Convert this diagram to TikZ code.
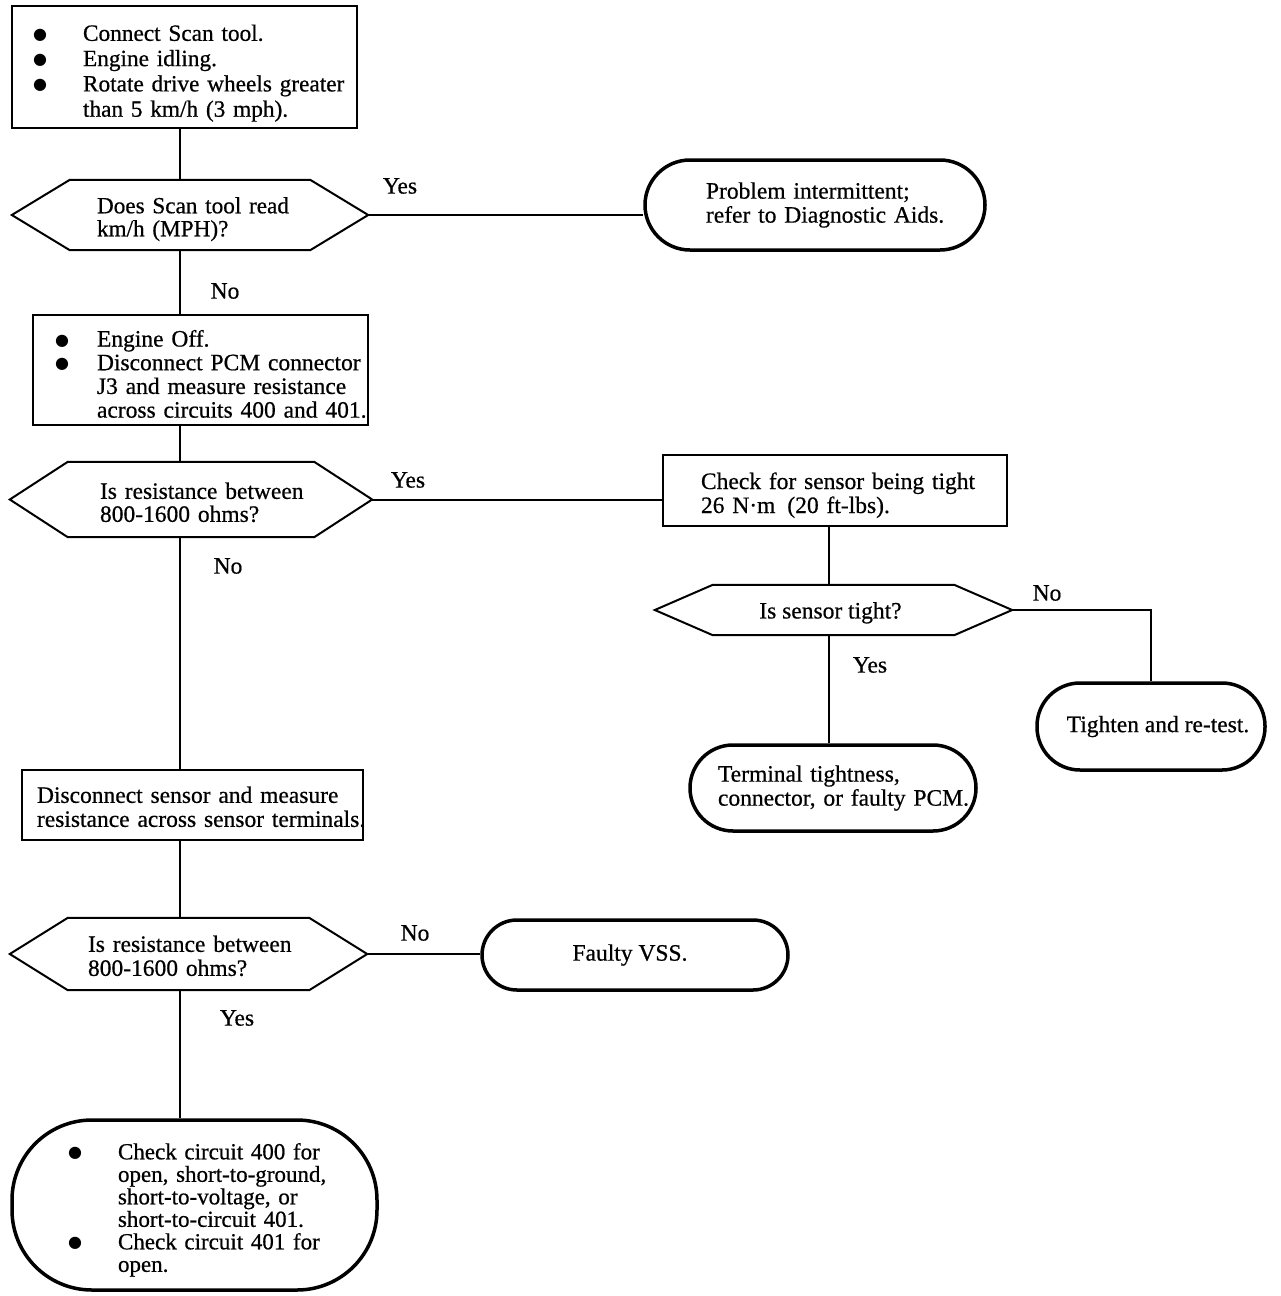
\documentclass[tikz,border=0pt]{standalone}
\usepackage{fontspec}
\setmainfont{Liberation Serif}[FakeBold=0.6]
\newfontfamily\symfnt{DejaVu Sans}
\usetikzlibrary{calc}
% bullet centred at #1 from line start, text column width #2
\newcommand\bi[3]{\mbox{\makebox[#2][l]{\hspace{#1}\makebox[0pt]{\symfnt\fontsize{16}{16}\selectfont\raisebox{1.5pt}{●}}}#3}}
\newcommand\tl[2]{\mbox{\hspace{#1}#2}}
\newcommand\up[1]{\rule{0pt}{#1}}
\newcommand\hexa[1]{\draw[conn] (#1.west) -- ($(#1.north west)+(58,0)$) -- ($(#1.north east)+(-58,0)$) -- (#1.east) -- ($(#1.south east)+(-58,0)$) -- ($(#1.south west)+(58,0)$) -- cycle;}
\begin{document}
\begin{tikzpicture}[x=1pt,y=-1pt,
  every node/.style={font=\fontsize{23.5}{24}\selectfont, inner sep=0pt},
  box/.style={draw, line width=2pt, rectangle, align=left, inner xsep=4pt},
  term/.style={draw, line width=3.5pt, rectangle, rounded corners=#1},
  term/.default=40,
  hexnode/.style={rectangle, align=left, inner xsep=4pt},
  lbl/.style={anchor=center},
  conn/.style={line width=2pt, line join=miter}
]
\fill[white] (0,0) rectangle (1280,1296);
\useasboundingbox (0,0) rectangle (1280,1296);
\coordinate (sp1) at (180,0);
\coordinate (sp2) at (829,0);

% step boxes
\node[box, font=\fontsize{23.3}{25.3}\selectfont, minimum width=345, minimum height=122, text width=337] (b1) at (184.5,67)
 {\up{28.5pt}\bi{24pt}{67pt}{Connect Scan tool.}\\\bi{24pt}{67pt}{Engine idling.}\\\bi{24pt}{67pt}{Rotate drive wheels greater}\\\tl{67pt}{than 5 km/h (3 mph).}};

\node[box, font=\fontsize{23.5}{23.7}\selectfont, minimum width=335, minimum height=110, text width=327] (b2) at (200.5,370)
 {\up{24.5pt}\bi{25pt}{60pt}{Engine Off.}\\\bi{25pt}{60pt}{Disconnect PCM connector}\\\tl{60pt}{J3 and measure resistance}\\\tl{60pt}{across circuits 400 and 401.}};

\node[box, minimum width=344, minimum height=71, text width=336] (b3) at (835,490.5)
 {\up{26pt}\tl{34pt}{Check for sensor being tight}\\\tl{34pt}{26 N·m\hspace{12pt}(20 ft-lbs).}};

\node[box, minimum width=341, minimum height=70, text width=333] (b4) at (192.5,805)
 {\up{20pt}\tl{11pt}{Disconnect sensor and measure}\\\tl{11pt}{resistance across sensor terminals.}};

% decisions
\node[hexnode, font=\fontsize{23.2}{23}\selectfont, minimum width=356, minimum height=70, text width=348] (d1) at (190,215)
 {\up{24.5pt}\tl{81pt}{Does Scan tool read}\\\tl{81pt}{km/h (MPH)?}};
\hexa{d1}
\node[hexnode, font=\fontsize{23.5}{23}\selectfont, minimum width=362, minimum height=75, text width=354] (d2) at (191,499.5)
 {\up{22pt}\tl{86pt}{Is resistance between}\\\tl{86pt}{800-1600 ohms?}};
\hexa{d2}
\node[hexnode, align=center, minimum width=357, minimum height=50] (d3) at (833.5,610)
 {\up{22pt}Is sensor tight?\hspace*{6pt}};
\hexa{d3}
\node[hexnode, font=\fontsize{23.5}{24}\selectfont, minimum width=357, minimum height=72, text width=349] (d4) at (188.5,954)
 {\up{20pt}\tl{74pt}{Is resistance between}\\\tl{74pt}{800-1600 ohms?}};
\hexa{d4}

% terminals
\node[term=45, align=left, inner xsep=4pt, minimum width=340, minimum height=90, text width=332] (t1) at (815,205)
 {\tl{57pt}{Problem intermittent;}\\\tl{57pt}{refer to Diagnostic Aids.}};
\node[term=43, align=center, minimum width=228, minimum height=87] (t2) at (1151,726.5)
 {\hspace*{14pt}Tighten and re-test.};
\node[term=43, align=left, inner xsep=4pt, minimum width=286, minimum height=86, text width=278] (t3) at (833,788)
 {\tl{24pt}{Terminal tightness,}\\\tl{24pt}{connector, or faulty PCM.}};
\node[term=35, align=center, minimum width=306, minimum height=70] (t4) at (635,955)
 {Faulty VSS.\hspace*{10pt}};
\node[term=80, font=\fontsize{23}{22.5}\selectfont, align=left, inner xsep=4pt, minimum width=365, minimum height=170, text width=357] (t5) at (194.5,1205)
 {\up{26pt}\bi{59pt}{102pt}{Check circuit 400 for}\\\tl{102pt}{open, short-to-ground,}\\\tl{102pt}{short-to-voltage, or}\\\tl{102pt}{short-to-circuit 401.}\\\bi{59pt}{102pt}{Check circuit 401 for}\\\tl{102pt}{open.}};

% connectors
\draw[conn] (b1.south -| sp1) -- (d1.north -| sp1);
\draw[conn] (d1.east) -- (d1.east -| t1.west);
\draw[conn] (d1.south -| sp1) -- (b2.north -| sp1);
\draw[conn] (b2.south -| sp1) -- (d2.north -| sp1);
\draw[conn] (d2.east) -- (d2.east -| b3.west);
\draw[conn] (b3.south -| sp2) -- (d3.north -| sp2);
\draw[conn] (d3.east) -| (t2.north);
\draw[conn] (d3.south -| sp2) -- (t3.north -| sp2);
\draw[conn] (d2.south -| sp1) -- (b4.north -| sp1);
\draw[conn] (b4.south -| sp1) -- (d4.north -| sp1);
\draw[conn] (d4.east) -- (d4.east -| t4.west);
\draw[conn] (d4.south -| sp1) -- (t5.north -| sp1);

% labels
\node[lbl] (l1) at (400,186) {Yes};
\node[lbl] (l2) at (225,291) {No};
\node[lbl] (l3) at (408,480) {Yes};
\node[lbl] (l4) at (228,566) {No};
\node[lbl] (l5) at (1047,593) {No};
\node[lbl] (l6) at (870,665) {Yes};
\node[lbl] (l7) at (415,933) {No};
\node[lbl] (l8) at (237,1018) {Yes};
\end{tikzpicture}
\end{document}
